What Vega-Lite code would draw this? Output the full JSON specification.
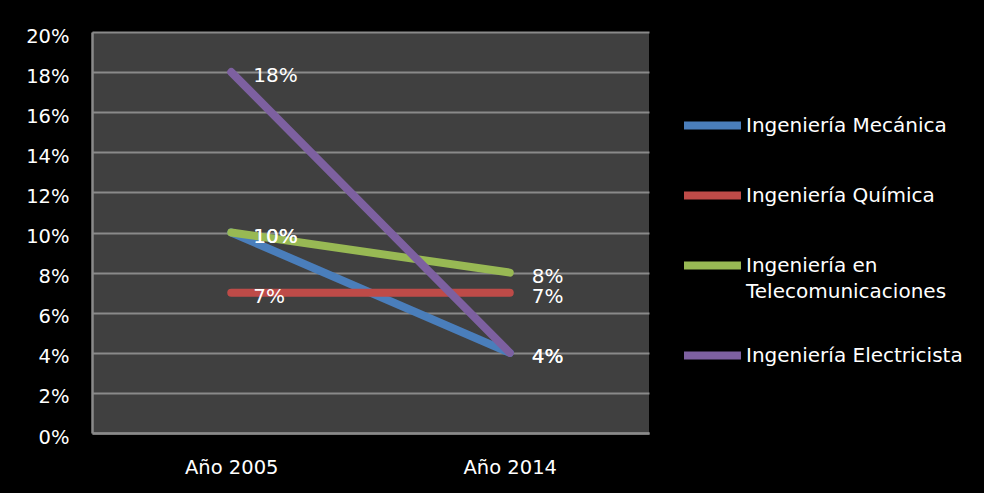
{
  "$schema": "https://vega.github.io/schema/vega-lite/v6.json",
  "width": 557,
  "height": 401,
  "autosize": {"type": "none"},
  "padding": {"left": 92, "top": 32, "right": 335, "bottom": 60},
  "background": "#000000",
  "config": {
    "view": {"fill": "#404040", "stroke": null},
    "font": "DejaVu Sans",
    "style": {"guide-label": {"lineHeight": 26}}
  },
  "data": {
    "values": [
      {"carrera": "Ingeniería Mecánica", "year": "Año 2005", "value": 0.10},
      {"carrera": "Ingeniería Mecánica", "year": "Año 2014", "value": 0.04},
      {"carrera": "Ingeniería Química", "year": "Año 2005", "value": 0.07},
      {"carrera": "Ingeniería Química", "year": "Año 2014", "value": 0.07},
      {"carrera": "Ingeniería en Telecomunicaciones", "year": "Año 2005", "value": 0.10},
      {"carrera": "Ingeniería en Telecomunicaciones", "year": "Año 2014", "value": 0.08},
      {"carrera": "Ingeniería Electricista", "year": "Año 2005", "value": 0.18},
      {"carrera": "Ingeniería Electricista", "year": "Año 2014", "value": 0.04}
    ]
  },
  "encoding": {
    "x": {
      "field": "year", "type": "ordinal", "sort": null,
      "scale": {"type": "point", "padding": 0.5},
      "axis": {
        "title": null, "labelAngle": 0, "labelColor": "#ffffff", "labelFontSize": 19.5,
        "ticks": false, "labelPadding": 25, "domain": true, "domainColor": "#8a8a8a", "domainWidth": 2.5, "grid": false
      }
    },
    "y": {
      "field": "value", "type": "quantitative",
      "scale": {"domain": [0, 0.2], "nice": false},
      "axis": {
        "title": null, "format": ".0%", "values": [0, 0.02, 0.04, 0.06, 0.08, 0.1, 0.12, 0.14, 0.16, 0.18, 0.2],
        "labelColor": "#ffffff", "labelFontSize": 19.5, "ticks": false, "labelPadding": 23,
        "labelOffset": 4,
        "domain": true, "domainColor": "#8a8a8a", "domainWidth": 2.5,
        "grid": true, "gridColor": "#8a8a8a", "gridWidth": 2
      }
    }
  },
  "layer": [
    {
      "mark": {"type": "line", "strokeWidth": 8, "strokeCap": "round", "strokeJoin": "round"},
      "encoding": {
        "color": {
          "field": "carrera", "type": "nominal",
          "scale": {
            "domain": ["Ingeniería Mecánica", "Ingeniería Química", "Ingeniería en Telecomunicaciones", "Ingeniería Electricista"],
            "range": ["#4A7EBB", "#BE4B48", "#98B954", "#7D60A0"]
          },
          "legend": {
            "title": null, "orient": "none", "legendX": 588, "legendY": 61,
            "symbolType": "stroke", "symbolSize": 3249, "symbolStrokeWidth": 8,
            "labelColor": "#ffffff", "labelFontSize": 20, "labelOffset": 1, "labelLimit": 0,
            "rowPadding": 21, "padding": 0,
            "labelExpr": "datum.label == 'Ingeniería en Telecomunicaciones' ? ['Ingeniería en', 'Telecomunicaciones'] : datum.label"
          }
        }
      }
    },
    {
      "mark": {"type": "text", "align": "left", "baseline": "middle", "dx": 22, "dy": 4, "fontSize": 20, "color": "#ffffff"},
      "encoding": {
        "text": {"field": "value", "type": "quantitative", "format": ".0%"}
      }
    }
  ]
}
